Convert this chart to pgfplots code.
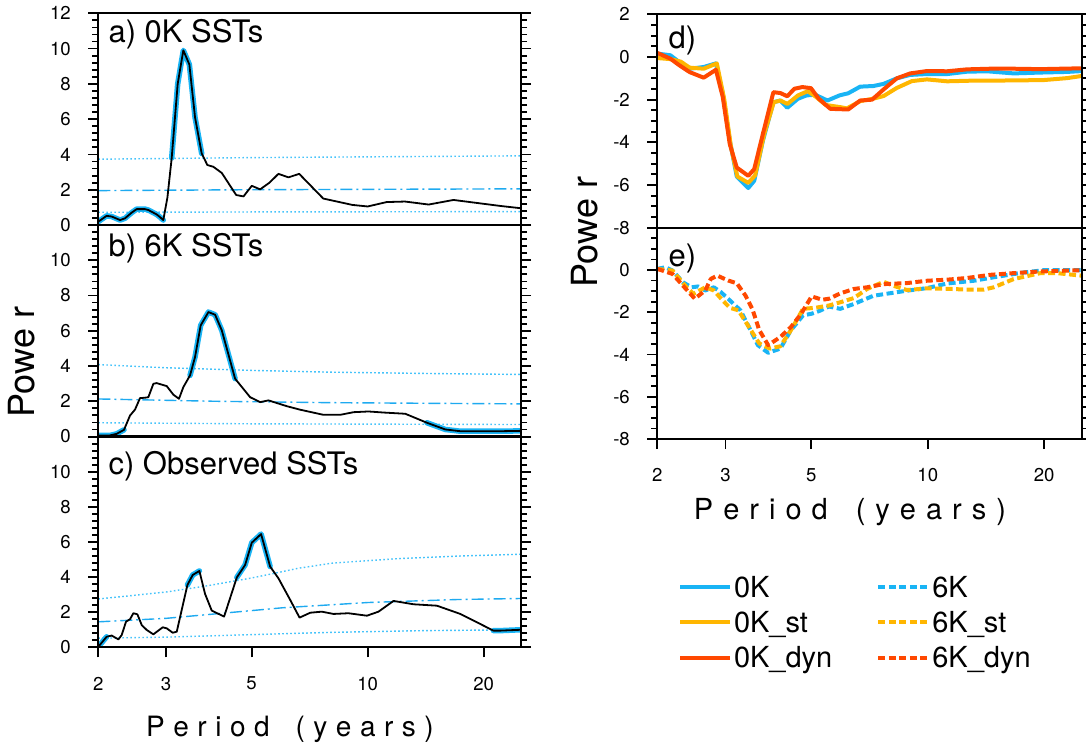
\documentclass[border=0pt]{standalone}
\usepackage{fontspec}
\setmainfont{TeX Gyre Heros}
\usepackage{pgfplots}
\usepackage{pgfplotstable}
\pgfplotsset{compat=1.18}

\definecolor{cblue}{RGB}{25,180,245}
\definecolor{corange}{RGB}{255,182,0}
\definecolor{cred}{RGB}{255,72,0}
\definecolor{cdot}{RGB}{70,195,250}
\definecolor{cdash}{RGB}{30,170,240}

\newcommand{\tickfont}{\fontsize{18.6bp}{20bp}\selectfont}
\newcommand{\panelfont}{\fontsize{31bp}{34bp}\selectfont}
\newcommand{\legfont}{\fontsize{29bp}{32bp}\selectfont}
\newcommand{\ls}{\hspace{8.5bp}}
\newcommand{\lsr}{\hspace{10bp}}

% ---------- panel a ----------
\pgfplotstableread{
x y
2.000 0.19
2.102 0.52
2.166 0.48
2.278 0.28
2.346 0.38
2.441 0.70
2.515 0.90
2.643 0.90
2.697 0.85
2.834 0.60
2.891 0.45
2.949 0.28
3.022 1.55
3.101 3.80
3.214 8.00
3.324 9.90
3.446 9.10
3.565 6.10
3.710 4.05
3.838 3.40
3.978 3.30
4.183 2.95
4.558 1.70
4.762 1.62
5.004 2.22
5.260 2.02
5.563 2.40
5.868 2.90
6.230 2.70
6.642 2.90
7.670 1.50
9.120 1.14
10.00 1.05
11.20 1.30
12.50 1.33
14.40 1.16
16.70 1.42
22.10 1.08
25.00 0.95
}\tAmain
\pgfplotstableread{
x y
2.000 0.19
2.102 0.52
2.166 0.48
2.278 0.28
2.346 0.38
2.441 0.70
2.515 0.90
2.643 0.90
2.697 0.85
2.834 0.60
2.891 0.45
2.949 0.28
}\tAhA
\pgfplotstableread{
x y
3.101 3.80
3.214 8.00
3.324 9.90
3.446 9.10
3.565 6.10
3.710 4.05
}\tAhB
\pgfplotstableread{
x y
2 3.73
5 3.82
25 3.92
}\tAup
\pgfplotstableread{
x y
2 1.95
5 2.00
25 2.05
}\tAmid
\pgfplotstableread{
x y
2 0.72
5 0.74
25 0.76
}\tAlo

% ---------- panel b ----------
\pgfplotstableread{
x y
2.000 0.06
2.142 0.06
2.232 0.15
2.332 0.38
2.417 1.19
2.491 1.53
2.566 2.18
2.643 2.20
2.697 2.23
2.779 2.99
2.834 3.03
3.010 2.86
3.133 2.37
3.239 2.14
3.324 2.80
3.460 3.47
3.565 4.51
3.688 6.31
3.862 7.06
4.019 6.91
4.183 6.02
4.529 3.28
4.955 2.23
5.260 1.95
5.528 2.05
6.169 1.72
6.683 1.52
7.680 1.23
8.486 1.23
9.192 1.38
10.05 1.42
11.00 1.36
12.52 1.29
14.25 0.78
15.90 0.40
17.40 0.30
22.10 0.30
25.00 0.32
}\tBmain
\pgfplotstableread{
x y
2.000 0.06
2.142 0.06
2.232 0.15
2.332 0.38
}\tBhA
\pgfplotstableread{
x y
3.460 3.47
3.565 4.51
3.688 6.31
3.862 7.06
4.019 6.91
4.183 6.02
4.529 3.28
}\tBhB
\pgfplotstableread{
x y
14.25 0.78
15.90 0.40
17.40 0.30
22.10 0.30
25.00 0.32
}\tBhC
\pgfplotstableread{
x y
2 4.08
3 3.90
5 3.75
8 3.65
15 3.57
25 3.52
}\tBup
\pgfplotstableread{
x y
2 2.13
4 2.00
8 1.92
25 1.85
}\tBmid
\pgfplotstableread{
x y
2 0.78
5 0.72
25 0.68
}\tBlo

% ---------- panel c ----------
\pgfplotstableread{
x y
2.000 0.03
2.102 0.60
2.166 0.67
2.255 0.45
2.300 0.70
2.360 1.46
2.417 1.60
2.466 1.94
2.526 1.88
2.592 1.27
2.670 0.99
2.779 0.74
2.939 1.14
3.010 1.08
3.120 0.83
3.196 0.89
3.406 3.55
3.516 4.12
3.659 4.35
3.785 3.04
3.939 2.09
4.241 1.75
4.576 3.98
4.808 4.69
5.004 5.96
5.290 6.45
5.583 4.60
5.868 3.93
6.295 2.70
6.657 1.69
7.097 1.97
7.606 2.03
8.151 1.90
8.918 1.94
9.955 1.80
10.67 2.03
11.67 2.64
13.16 2.45
15.13 2.37
17.40 1.90
21.20 0.95
22.10 0.95
25.00 1.00
}\tCmain
\pgfplotstableread{
x y
2.000 0.03
2.102 0.60
}\tChA
\pgfplotstableread{
x y
3.406 3.55
3.516 4.12
3.659 4.35
}\tChB
\pgfplotstableread{
x y
4.576 3.98
4.808 4.69
5.004 5.96
5.290 6.45
5.583 4.60
}\tChC
\pgfplotstableread{
x y
21.20 0.95
22.10 0.95
25.00 1.00
}\tChD
\pgfplotstableread{
x y
2 2.75
3 3.15
3.83 3.50
5 3.95
5.69 4.20
6.6 4.50
8.13 4.80
12 5.05
17.4 5.20
25 5.30
}\tCup
\pgfplotstableread{
x y
2 1.45
3 1.65
4.5 2.00
6 2.25
10 2.55
17 2.72
25 2.78
}\tCmid
\pgfplotstableread{
x y
2 0.52
3 0.58
5 0.72
8 0.85
14 0.95
25 1.00
}\tClo

% ---------- panel d ----------
\pgfplotstableread{
x y
2.000 0.16
2.162 0.08
2.280 -0.24
2.425 -0.55
2.636 -0.47
2.834 -0.30
2.953 -1.70
3.078 -3.90
3.209 -5.60
3.437 -6.14
3.561 -5.80
3.750 -3.92
3.991 -2.12
4.159 -2.04
4.335 -2.38
4.616 -1.96
4.861 -1.80
5.119 -1.77
5.505 -2.04
5.916 -1.80
6.231 -1.70
6.690 -1.39
7.240 -1.36
7.690 -1.26
8.320 -1.00
9.010 -0.84
9.950 -0.80
11.22 -0.80
12.63 -0.69
14.23 -0.67
16.68 -0.77
19.55 -0.73
22.93 -0.70
25.00 -0.66
}\tDb
\pgfplotstableread{
x y
2.000 -0.05
2.162 -0.10
2.300 -0.22
2.425 -0.50
2.636 -0.55
2.850 -0.30
2.980 -2.00
3.100 -4.20
3.220 -5.60
3.437 -5.90
3.580 -5.55
3.780 -3.60
4.000 -2.12
4.160 -2.04
4.340 -2.20
4.620 -1.80
4.900 -1.60
5.150 -1.88
5.450 -2.25
5.940 -2.35
6.180 -2.41
6.690 -2.07
7.240 -1.95
7.690 -1.83
8.320 -1.45
9.100 -1.13
9.950 -1.05
11.22 -1.14
13.00 -1.11
16.70 -1.10
20.00 -1.08
22.93 -0.99
25.00 -0.89
}\tDo
\pgfplotstableread{
x y
2.000 0.19
2.162 -0.08
2.280 -0.39
2.425 -0.71
2.636 -0.97
2.834 -0.60
2.953 -1.88
3.078 -4.08
3.209 -5.18
3.437 -5.57
3.561 -5.25
3.750 -3.60
3.991 -1.65
4.159 -1.69
4.335 -1.84
4.520 -1.49
4.740 -1.41
4.990 -1.46
5.230 -1.96
5.600 -2.43
6.230 -2.46
6.690 -2.04
7.180 -2.00
7.690 -1.52
8.320 -1.00
9.010 -0.77
9.950 -0.66
11.22 -0.67
12.63 -0.58
14.50 -0.55
16.68 -0.55
19.55 -0.57
25.00 -0.53
}\tDr

% ---------- panel e ----------
\pgfplotstableread{
x y
2.000 0.05
2.100 0.13
2.190 -0.03
2.330 -0.58
2.450 -0.82
2.550 -0.78
2.660 -0.97
2.800 -0.82
2.920 -1.05
3.080 -1.44
3.280 -1.91
3.450 -2.70
3.640 -3.56
3.870 -3.92
4.160 -3.72
4.430 -2.85
4.760 -2.15
5.010 -2.07
5.230 -1.95
5.560 -1.73
5.940 -1.84
6.440 -1.61
7.240 -1.22
8.840 -0.98
9.950 -0.86
11.22 -0.64
13.15 -0.51
15.10 -0.32
17.70 -0.12
19.94 -0.01
25.00 -0.01
}\tEb
\pgfplotstableread{
x y
2.000 0.05
2.190 -0.03
2.380 -0.82
2.480 -1.13
2.660 -0.82
2.800 -0.97
2.950 -1.44
3.080 -1.79
3.240 -1.91
3.450 -2.70
3.670 -3.48
3.910 -3.72
4.160 -3.61
4.430 -2.85
4.760 -1.84
5.120 -1.79
5.560 -1.68
5.940 -1.53
6.440 -1.33
6.970 -0.90
7.690 -0.56
8.160 -0.75
8.840 -0.95
9.950 -0.87
11.22 -0.89
12.63 -0.93
13.95 -0.93
14.81 -0.82
16.68 -0.43
19.55 -0.15
21.60 -0.15
25.00 -0.27
}\tEo
\pgfplotstableread{
x y
2.000 0.05
2.190 -0.19
2.350 -0.82
2.500 -1.36
2.660 -0.97
2.750 -0.42
2.860 -0.27
3.050 -0.50
3.210 -0.63
3.380 -1.21
3.520 -1.84
3.670 -2.85
3.870 -3.56
4.160 -3.17
4.430 -2.70
4.710 -2.07
5.010 -1.25
5.340 -1.41
5.560 -1.36
5.940 -1.11
6.440 -0.90
6.970 -0.82
7.690 -0.67
8.840 -0.62
9.950 -0.51
11.22 -0.46
12.63 -0.38
14.50 -0.23
16.68 -0.15
19.55 -0.07
25.00 -0.01
}\tEr

\tikzset{
  blk/.style={black, line width=1.8bp, line join=round},
  hil/.style={cblue, line width=5.5bp, line join=round, line cap=round},
  cnf95/.style={cdot, line width=1.4bp, dash pattern=on 1.6bp off 2.4bp},
  cnf50/.style={cdash, line width=1.4bp, dash pattern=on 12bp off 4bp on 2bp off 4bp},
  solline/.style={line width=4bp, line join=round},
  dshline/.style={line width=4bp, line join=round, dash pattern=on 7bp off 3.5bp},
}

\begin{document}
\begin{tikzpicture}
\useasboundingbox (0,0) rectangle (1086bp,-749bp);

% a
\begin{axis}[scale only axis, xmode=log, xmin=2, xmax=25, axis on top,
  axis line style={line width=2.2bp}, tick align=outside,
  major tick length=10bp, minor tick length=6bp,
  major tick style={line width=1.8bp, black}, minor tick style={line width=1.8bp, black},
  xminorticks=false, tick label style={font=\tickfont},
  yticklabel style={xshift=-14bp}, xticklabel style={yshift=-16bp},
  width=422.7bp, height=211.7bp, ymin=0, ymax=12, ytick={0,2,4,6,8,10,12}, minor y tick num=4,
  xtick=\empty,
  at={(98.3bp,-13.3bp)}, anchor=north west,
  yticklabels={0,2,4,6,8,10,12}]
  \addplot[cnf95] table {\tAup};
  \addplot[cnf50] table {\tAmid};
  \addplot[cnf95] table {\tAlo};
  \addplot[hil] table {\tAhA};
  \addplot[hil] table {\tAhB};
  \addplot[blk] table {\tAmain};
\end{axis}

% b
\begin{axis}[scale only axis, xmode=log, xmin=2, xmax=25, axis on top,
  axis line style={line width=2.2bp}, tick align=outside,
  major tick length=10bp, minor tick length=6bp,
  major tick style={line width=1.8bp, black}, minor tick style={line width=1.8bp, black},
  xminorticks=false, tick label style={font=\tickfont},
  yticklabel style={xshift=-14bp}, xticklabel style={yshift=-16bp},
  width=422.7bp, height=211.5bp, ymin=0, ymax=12, ytick={0,2,4,6,8,10,12}, minor y tick num=4,
  xtick=\empty,
  at={(98.3bp,-225bp)}, anchor=north west,
  yticklabels={0,2,4,6,8,10,{}}]
  \addplot[cnf95] table {\tBup};
  \addplot[cnf50] table {\tBmid};
  \addplot[cnf95] table {\tBlo};
  \addplot[hil] table {\tBhA};
  \addplot[hil] table {\tBhB};
  \addplot[hil] table {\tBhC};
  \addplot[blk] table {\tBmain};
\end{axis}

% c
\begin{axis}[scale only axis, xmode=log, xmin=2, xmax=25, axis on top,
  axis line style={line width=2.2bp}, tick align=outside,
  major tick length=10bp, minor tick length=6bp,
  major tick style={line width=1.8bp, black}, minor tick style={line width=1.8bp, black},
  xminorticks=false, tick label style={font=\tickfont},
  yticklabel style={xshift=-14bp}, xticklabel style={yshift=-16bp},
  width=422.7bp, height=210.7bp, ymin=0, ymax=12, ytick={0,2,4,6,8,10,12}, minor y tick num=4,
  xtick={2,3,5,10,20}, xticklabels={2,3,5,10,20}, xtick pos=left,
  at={(98.3bp,-436.6bp)}, anchor=north west,
  yticklabels={0,2,4,6,8,10,{}}]
  \addplot[cnf95] table {\tCup};
  \addplot[cnf50] table {\tCmid};
  \addplot[cnf95] table {\tClo};
  \addplot[hil] table {\tChA};
  \addplot[hil] table {\tChB};
  \addplot[hil] table {\tChC};
  \addplot[hil] table {\tChD};
  \addplot[blk] table {\tCmain};
\end{axis}

% d
\begin{axis}[scale only axis, xmode=log, xmin=2, xmax=25, axis on top,
  axis line style={line width=2.2bp}, tick align=outside,
  major tick length=10bp, minor tick length=6bp,
  major tick style={line width=1.8bp, black}, minor tick style={line width=1.8bp, black},
  xminorticks=false, tick label style={font=\tickfont},
  yticklabel style={xshift=-14bp}, xticklabel style={yshift=-16bp},
  width=424.4bp, height=213.4bp, ymin=-8, ymax=2, ytick={-8,-6,-4,-2,0,2}, minor y tick num=3,
  xtick=\empty,
  at={(657.3bp,-14.3bp)}, anchor=north west,
  yticklabels={-8,-6,-4,-2,0,2}]
  \addplot[solline, cblue] table {\tDb};
  \addplot[solline, corange] table {\tDo};
  \addplot[solline, cred] table {\tDr};
\end{axis}

% e
\begin{axis}[scale only axis, xmode=log, xmin=2, xmax=25, axis on top,
  axis line style={line width=2.2bp}, tick align=outside,
  major tick length=10bp, minor tick length=6bp,
  major tick style={line width=1.8bp, black}, minor tick style={line width=1.8bp, black},
  xminorticks=false, tick label style={font=\tickfont},
  yticklabel style={xshift=-14bp}, xticklabel style={yshift=-16bp},
  width=424.4bp, height=211.3bp, ymin=-8, ymax=2, ytick={-8,-6,-4,-2,0,2}, minor y tick num=3,
  xtick={2,3,5,10,20}, xticklabels={2,3,5,10,20}, xtick pos=left,
  at={(657.3bp,-227.7bp)}, anchor=north west,
  yticklabels={-8,-6,-4,-2,0,{}},
  legend columns=2,
  legend image code/.code={\draw[#1] (0bp,0bp) -- (50bp,0bp);},
  legend style={at={(axis description cs:0.0488,-0.639)}, anchor=north west,
    draw=none, fill=none, inner sep=0bp, outer sep=0bp, font=\legfont,
    cells={anchor=west}, row sep=8.5bp,
    /tikz/every even column/.append style={column sep=42bp}},
  ]
  \addlegendimage{solline, cblue}
  \addlegendentry{0K}
  \addplot[dshline, cblue] table {\tEb};
  \addlegendentry{6K}
  \addlegendimage{solline, corange}
  \addlegendentry{0K\_st}
  \addplot[dshline, corange] table {\tEo};
  \addlegendentry{6K\_st}
  \addlegendimage{solline, cred}
  \addlegendentry{0K\_dyn}
  \addplot[dshline, cred] table {\tEr};
  \addlegendentry{6K\_dyn}
\end{axis}

% labels
\node[anchor=base west, font=\panelfont] at (105bp,-42.7bp) {a) 0K SSTs};
\node[anchor=base west, font=\panelfont] at (105bp,-256.7bp) {b) 6K SSTs};
\node[anchor=base west, font=\panelfont] at (105bp,-474.3bp) {c) Observed SSTs};
\node[anchor=base west, font=\panelfont] at (665bp,-48bp) {d)};
\node[anchor=base west, font=\panelfont] at (665bp,-266.7bp) {e)};

\node[rotate=90, font=\fontsize{36bp}{40bp}\selectfont] at (22bp,-362bp) {Powe r};
\node[rotate=90, font=\fontsize{36bp}{40bp}\selectfont] at (585bp,-232bp) {Powe r};

\node[font=\fontsize{28bp}{30bp}\selectfont] at (290bp,-729bp)
  {P\ls e\ls r\ls i\ls o\ls d\hspace{26bp}(\ls y\ls e\ls a\ls r\ls s\ls )};
\node[font=\fontsize{29bp}{31bp}\selectfont] at (850bp,-512bp)
  {P\lsr e\lsr r\lsr i\lsr o\lsr d\hspace{28bp}(\lsr y\lsr e\lsr a\lsr r\lsr s\lsr )};
\end{tikzpicture}
\end{document}
